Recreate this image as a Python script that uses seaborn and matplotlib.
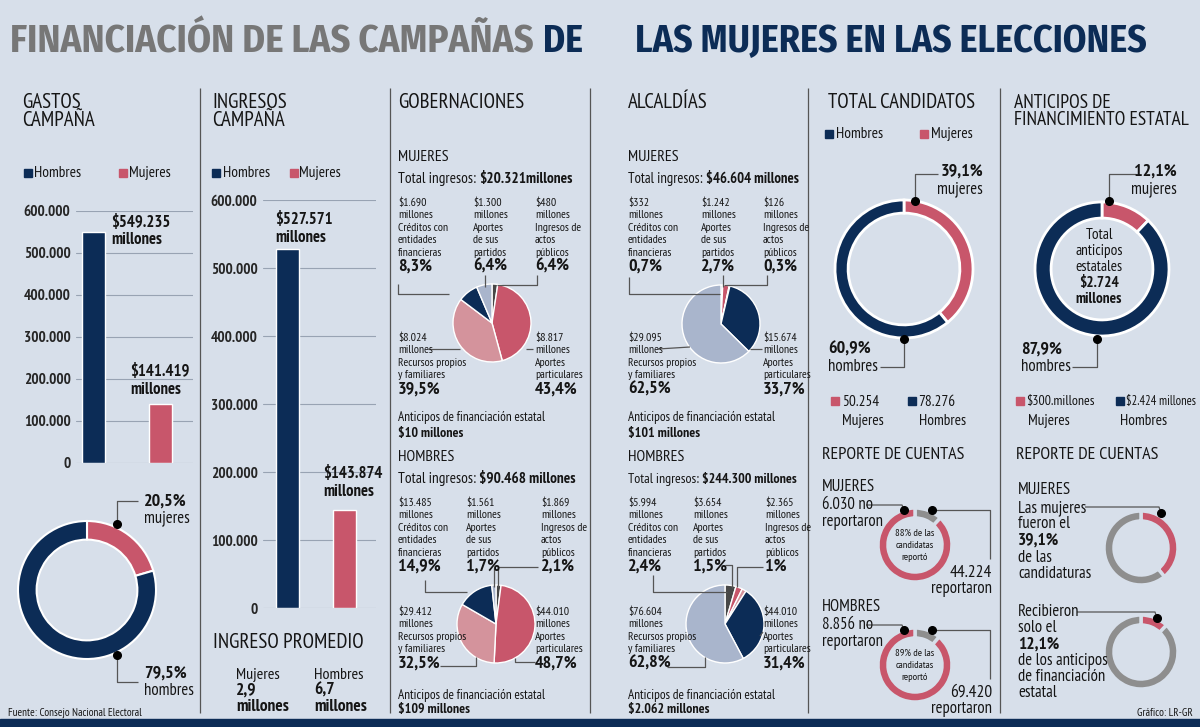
import numpy as np
import pandas as pd
import matplotlib
matplotlib.use('Agg')
import matplotlib.pyplot as plt
import seaborn as sns
from matplotlib.patches import Rectangle

W, H = 1200, 727
BG = '#d7dfea'
NAVY = '#0c2c56'
RED = '#c8566b'
PINK = '#d4939c'
LBLUE = '#a9b5cc'
DGRAY = '#474747'
GRAY = '#8e8e8e'
TGRAY = '#777777'
LN = '#555555'
TXT = '#151515'

# datos
generos = ['Hombres', 'Mujeres']
gastos = [549235, 141419]
ingresos = [527571, 143874]
promedio = [2.9, 6.7]  # mujeres, hombres

fuentes = ['Créditos con entidades financieras', 'Aportes de sus partidos',
           'Ingresos de actos públicos', 'Recursos propios y familiares',
           'Aportes particulares']
gob_muj = [1690, 1300, 480, 8024, 8817]
gob_muj_pct = ['8,3%', '6,4%', '6,4%', '39,5%', '43,4%']
gob_hom = [13485, 1561, 1869, 29412, 44010]
gob_hom_pct = ['14,9%', '1,7%', '2,1%', '32,5%', '48,7%']
alc_muj = [332, 1242, 126, 29095, 15674]
alc_muj_pct = ['0,7%', '2,7%', '0,3%', '62,5%', '33,7%']
alc_hom = [5994, 3654, 2365, 76604, 44010]
alc_hom_pct = ['2,4%', '1,5%', '1%', '62,8%', '31,4%']
gob_totales = ['$20.321millones', '$90.468 millones']
alc_totales = ['$46.604 millones', '$244.300 millones']
gob_anticipos = ['$10 millones', '$109 millones']
alc_anticipos = ['$101 millones', '$2.062 millones']

candidatos = [78276, 50254]
cand_pct = [60.9, 39.1]
anticipos = ['$2.424 millones', '$300.millones']
antic_pct = [87.9, 12.1]
total_anticipos = '$2.724'
reporte_muj = [6030, 44224]   # no reportaron, reportaron
reporte_hom = [8856, 69420]
reporte_pct = ['88%', '89%']

sns.set_style('white')
plt.rcParams['font.family'] = ['PT Sans Narrow', 'Roboto Condensed', 'Liberation Sans', 'DejaVu Sans']
TITLE_FONT = ['Fira Sans Condensed', 'PT Sans Narrow', 'DejaVu Sans']

fig = plt.figure(figsize=(12, 7.27), dpi=100, facecolor=BG)
ax0 = fig.add_axes([0, 0, 1, 1], zorder=10)
ax0.set_xlim(0, W)
ax0.set_ylim(H, 0)
ax0.axis('off')


def fmt(v):
    return f'{v:,}'.replace(',', '.')


def px_axes(x, y, w, h):
    ax = fig.add_axes([x / W, 1 - (y + h) / H, w / W, h / H], zorder=1)
    ax.patch.set_visible(False)
    return ax


def t(x, y, s, size=7, bold=False, color=TXT, ha='left', va='center'):
    return ax0.text(x, y, s, fontsize=size, fontweight='bold' if bold else 'normal',
                    color=color, ha=ha, va=va)


def t2(x, y, s1, s2, size=9):
    a = t(x, y, s1, size=size, va='bottom')
    ax0.annotate(s2, xy=(1, 0), xycoords=a, fontsize=size, fontweight='bold',
                 color=TXT, ha='left', va='bottom')


def fit_title(x, y, s, width, color):
    a = ax0.text(x, y, s, fontsize=20, fontweight='bold', color=color, ha='left',
                 va='center', family=TITLE_FONT)
    w = a.get_window_extent(fig.canvas.get_renderer()).width
    a.set_fontsize(20 * width / w)


def seg(xs, ys):
    ax0.plot(xs, ys, color=LN, lw=0.9, solid_capstyle='butt')


def dot(x, y):
    ax0.plot(x, y, 'o', color='black', ms=5.5)


def square(x, y, c):
    ax0.add_patch(Rectangle((x, y), 8, 8, color=c))


def bar_panel(vals, x0, x1, ytop, ybot, centers, bw):
    ax = px_axes(x0, ytop, x1 - x0, ybot - ytop)
    unit = centers[1] - centers[0]
    df = pd.DataFrame({'genero': generos, 'valor': vals})
    sns.barplot(data=df, x='genero', y='valor', hue='genero', palette=[NAVY, RED],
                saturation=1, width=bw / unit, legend=False, ax=ax)
    ax.set_xlim((x0 - centers[0]) / unit, 1 + (x1 - centers[1]) / unit)
    ax.set_ylim(0, 600000)
    ticks = list(range(0, 600001, 100000))
    ax.set_yticks(ticks)
    ax.set_yticklabels([fmt(v) for v in ticks], fontweight='bold', fontsize=11)
    ax.tick_params(axis='y', length=0, pad=4)
    ax.set_xticks([])
    ax.grid(axis='y', color='#98a3b3', lw=0.8)
    ax.set_axisbelow(True)
    for s in ax.spines.values():
        s.set_visible(False)
    ax.set_xlabel('')
    ax.set_ylabel('')


def donut(cx, cy, r, vals, colors, width, edge='white', lw=1.5):
    k = 1.05
    ax = px_axes(cx - r * k, cy - r * k, 2 * r * k, 2 * r * k)
    ax.pie(vals, colors=colors, startangle=90, counterclock=False,
           wedgeprops=dict(width=width, edgecolor=edge, linewidth=lw))
    ax.set_xlim(-k, k)
    ax.set_ylim(-k, k)


def pie(cx, cy, r, vals, colors, order):
    k = 1.05
    ax = px_axes(cx - r * k, cy - r * k, 2 * r * k, 2 * r * k)
    ax.pie([vals[i] for i in order], colors=[colors[i] for i in order],
           startangle=90, counterclock=False)
    ax.set_xlim(-k, k)
    ax.set_ylim(-k, k)


desc = [['Créditos con', 'entidades', 'financieras'], ['Aportes', 'de sus', 'partidos'],
        ['Ingresos de', 'actos', 'públicos'], ['Recursos propios', 'y familiares'],
        ['Aportes', 'particulares']]


def label_block(x, y, i, vals, pcts):
    rows = ['$' + fmt(vals[i]), 'millones'] + desc[i]
    for j, s in enumerate(rows):
        t(x, y + j * 12.4, s, size=8.5)
    t(x, y + len(rows) * 12.4 + 2, pcts[i], size=13, bold=True)


def pie_section(xs, ytop, ylow, vals, pcts, sub, total, antic, yant, tsize=11):
    t(xs[0], ytop - 46, sub, size=11.5)
    t2(xs[0], ytop - 17, 'Total ingresos: ', total, size=tsize)
    for i in range(3):
        label_block(xs[i], ytop, i, vals, pcts)
    label_block(xs[0], ylow, 3, vals, pcts)
    label_block(xs[3], ylow, 4, vals, pcts)
    t(xs[0], yant, 'Anticipos de financiación estatal', size=9.5)
    t(xs[0], yant + 15, antic, size=10, bold=True)


# titulo
fit_title(10, 42, 'FINANCIACIÓN DE LAS CAMPAÑAS', 524, TGRAY)
fit_title(543, 42, 'DE', 40, NAVY)
fit_title(635, 42, 'LAS MUJERES EN LAS ELECCIONES', 511, NAVY)

# separadores y franja inferior
for x in [200, 390, 590, 808, 1000]:
    seg([x, x], [88, 713])
ax0.add_patch(Rectangle((0, 719), W, 8, color=NAVY))
t(8, 713, 'Fuente: Consejo Nacional Electoral', size=8)
t(1193, 713, 'Gráfico: LR-GR', size=8, ha='right')

HS = 15  # cabeceras

# panel gastos
t(22, 103, 'GASTOS', size=HS)
t(22, 120, 'CAMPAÑA', size=HS)
square(24, 169, NAVY)
t(34, 173, 'Hombres', size=11)
square(119, 169, RED)
t(129, 173, 'Mujeres', size=11)
bar_panel(gastos, 76, 193, 211, 463, [93.5, 160.5], 23)
t(111, 223, '$' + fmt(gastos[0]), size=12, bold=True)
t(111, 240, 'millones', size=12, bold=True)
t(130, 372, '$' + fmt(gastos[1]), size=12, bold=True)
t(130, 390, 'millones', size=12, bold=True)
donut(87, 590, 69, [gastos[1], gastos[0]], [RED, NAVY], 0.27)
seg([117, 117, 138], [524, 501, 501])
seg([117, 117, 138], [655, 682, 682])
dot(117, 524)
dot(117, 655)
g_tot = sum(gastos)
t(144, 502, f'{gastos[1] / g_tot * 100:.1f}%'.replace('.', ','), size=13, bold=True)
t(144, 518, 'mujeres', size=12)
t(144, 674, f'{gastos[0] / g_tot * 100:.1f}%'.replace('.', ','), size=13, bold=True)
t(144, 691, 'hombres', size=12)

# panel ingresos
t(212, 103, 'INGRESOS', size=HS)
t(212, 120, 'CAMPAÑA', size=HS)
square(212, 169, NAVY)
t(223, 173, 'Hombres', size=11)
square(290, 169, RED)
t(299, 173, 'Mujeres', size=11)
bar_panel(ingresos, 263, 376, 200, 608, [287, 344.5], 23)
t(275, 220, '$' + fmt(ingresos[0]), size=12, bold=True)
t(275, 238, 'millones', size=12, bold=True)
t(323, 474, '$' + fmt(ingresos[1]), size=12, bold=True)
t(323, 492, 'millones', size=12, bold=True)
t(213, 642, 'INGRESO PROMEDIO', size=HS)
for x, g, v in [(236, 'Mujeres', promedio[0]), (314, 'Hombres', promedio[1])]:
    t(x, 675, g, size=11.5)
    t(x, 691, f'{v}'.replace('.', ','), size=12.5, bold=True)
    t(x, 707, 'millones', size=12.5, bold=True)

# gobernaciones
gob_col = [NAVY, LBLUE, DGRAY, PINK, RED]
gob_ord = [2, 4, 3, 0, 1]
t(398, 103, 'GOBERNACIONES', size=HS)
pie_section([398, 473, 535, 535], 203, 338, gob_muj, gob_muj_pct, 'MUJERES',
            gob_totales[0], gob_anticipos[0], 418)
pie(492, 323, 39, gob_muj, gob_col, gob_ord)
seg([398, 398, 449], [284, 294, 294])
seg([485, 485], [275, 287])
seg([537, 537, 497], [275, 285, 285])
seg([428, 460], [349, 349])
seg([526, 533], [349, 349])
pie_section([398, 466, 541, 535], 503, 612, gob_hom, gob_hom_pct, 'HOMBRES',
            gob_totales[1], gob_anticipos[1], 695)
pie(496, 624, 39, gob_hom, gob_col, gob_ord)
seg([425, 425, 467], [580, 592, 592])
seg([494, 494], [568, 587])
seg([538, 498, 498], [567, 567, 587])
seg([440, 476, 476], [666, 666, 657])
seg([515, 515, 535], [658, 662, 662])

# alcaldias
alc_col = [DGRAY, RED, PINK, LBLUE, NAVY]
alc_ord = [0, 1, 2, 4, 3]
t(628, 103, 'ALCALDÍAS', size=HS)
pie_section([628, 701, 763, 763], 203, 338, alc_muj, alc_muj_pct, 'MUJERES',
            alc_totales[0], alc_anticipos[0], 418, tsize=10.5)
pie(721, 324, 39, alc_muj, alc_col, alc_ord)
seg([629, 629, 720], [277, 294, 294])
seg([723, 723], [275, 287])
seg([767, 767, 724], [275, 285, 285])
seg([658, 690], [349, 347])
seg([750, 762], [349, 349])
pie_section([628, 693, 765, 763], 503, 612, alc_hom, alc_hom_pct, 'HOMBRES',
            alc_totales[1], alc_anticipos[1], 695, tsize=10)
pie(725, 624, 39, alc_hom, alc_col, alc_ord)
seg([653, 653, 727], [575, 592, 592])
seg([725, 732, 732], [565, 565, 588])
seg([763, 737, 737], [567, 567, 587])
seg([667, 705, 705], [667, 667, 657])
seg([760, 763], [636, 632])

# total candidatos
t(828, 103, 'TOTAL CANDIDATOS', size=HS)
square(825, 130, NAVY)
t(836, 134, 'Hombres', size=11)
square(920, 130, RED)
t(931, 134, 'Mujeres', size=11)
donut(904, 269, 69, [candidatos[1], candidatos[0]], [RED, NAVY], 0.19, lw=2)
seg([915, 915, 938], [201, 174, 174])
seg([904, 904, 880], [339, 367, 367])
dot(915, 201)
dot(904, 339)
t(983, 172, f'{cand_pct[1]}%'.replace('.', ','), size=13, bold=True, ha='right')
t(983, 189, 'mujeres', size=12, ha='right')
t(828, 350, f'{cand_pct[0]}%'.replace('.', ','), size=13, bold=True)
t(828, 367, 'hombres', size=12)
square(831, 397, RED)
t(842, 402, fmt(candidatos[1]), size=11)
t(842, 421, 'Mujeres', size=11)
square(908, 397, NAVY)
t(918, 402, fmt(candidatos[0]), size=11)
t(919, 421, 'Hombres', size=11)

# anticipos
t(1014, 103, 'ANTICIPOS DE', size=14)
t(1014, 120, 'FINANCIMIENTO ESTATAL', size=14)
donut(1102, 269, 67, [antic_pct[1], antic_pct[0]], [RED, NAVY], 0.24, lw=2)
for y, s, b in [(235, 'Total', False), (251, 'anticipos', False), (267, 'estatales', False),
                (283, total_anticipos, True), (299, 'millones', True)]:
    t(1099, y, s, size=11, bold=b, ha='center')
seg([1109, 1109, 1136], [201, 174, 174])
seg([1097, 1097, 1072], [339, 367, 367])
dot(1109, 201)
dot(1097, 339)
t(1177, 172, f'{antic_pct[1]}%'.replace('.', ','), size=13, bold=True, ha='right')
t(1177, 189, 'mujeres', size=12, ha='right')
t(1021, 350, f'{antic_pct[0]}%'.replace('.', ','), size=13, bold=True)
t(1021, 367, 'hombres', size=12)
square(1016, 397, RED)
t(1026, 402, anticipos[1], size=10)
t(1028, 421, 'Mujeres', size=11)
square(1116, 397, NAVY)
t(1126, 402, anticipos[0], size=9)
t(1120, 421, 'Hombres', size=11)

# reporte de cuentas (candidatos)
t(822, 455, 'REPORTE DE CUENTAS', size=13)
for y0, sub, rep, pct in [(487, 'MUJERES', reporte_muj, reporte_pct[0]),
                          (607, 'HOMBRES', reporte_hom, reporte_pct[1])]:
    cy = y0 + 58
    t(822, y0, sub, size=12)
    t(822, y0 + 18, fmt(rep[0]) + ' no', size=12)
    t(822, y0 + 35, 'reportaron', size=12)
    donut(915, cy, 37, rep, [GRAY, RED], 0.27, edge=BG, lw=2.5)
    for j, s in enumerate([pct + ' de las', 'candidatas', 'reportó']):
        t(915, cy - 12 + j * 12, s, size=7.5, ha='center')
    seg([866, 902, 904], [y0 + 18, y0 + 18, y0 + 23])
    seg([932, 990, 990], [y0 + 23, y0 + 23, y0 + 72])
    dot(904, y0 + 23)
    dot(932, y0 + 23)
    t(992, y0 + 86, fmt(rep[1]), size=12.5, ha='right')
    t(992, y0 + 102, 'reportaron', size=12, ha='right')

# reporte de cuentas (anticipos)
t(1016, 455, 'REPORTE DE CUENTAS', size=13)
t(1018, 490, 'MUJERES', size=12)
rows1 = [('Las mujeres', False), ('fueron el', False),
         (f'{cand_pct[1]}%'.replace('.', ','), True), ('de las', False), ('candidaturas', False)]
for j, (s, b) in enumerate(rows1):
    t(1018, 508 + j * 16.5, s, size=12.5 if b else 12, bold=b)
donut(1141, 548, 37, [cand_pct[1], cand_pct[0]], [RED, GRAY], 0.27, edge=BG, lw=2.5)
seg([1085, 1159, 1161], [507, 507, 513])
dot(1161, 513)
rows2 = [('Recibieron', False), ('solo el', False), (f'{antic_pct[1]}%'.replace('.', ','), True),
         ('de los anticipos', False), ('de financiación', False), ('estatal', False)]
for j, (s, b) in enumerate(rows2):
    t(1018, 612 + j * 16.2, s, size=12.5 if b else 12, bold=b)
donut(1141, 652, 37, [antic_pct[1], antic_pct[0]], [RED, GRAY], 0.27, edge=BG, lw=2.5)
seg([1077, 1155, 1157], [612, 612, 618])
dot(1157, 618)

fig.savefig('out.png', dpi=100, facecolor=BG)
